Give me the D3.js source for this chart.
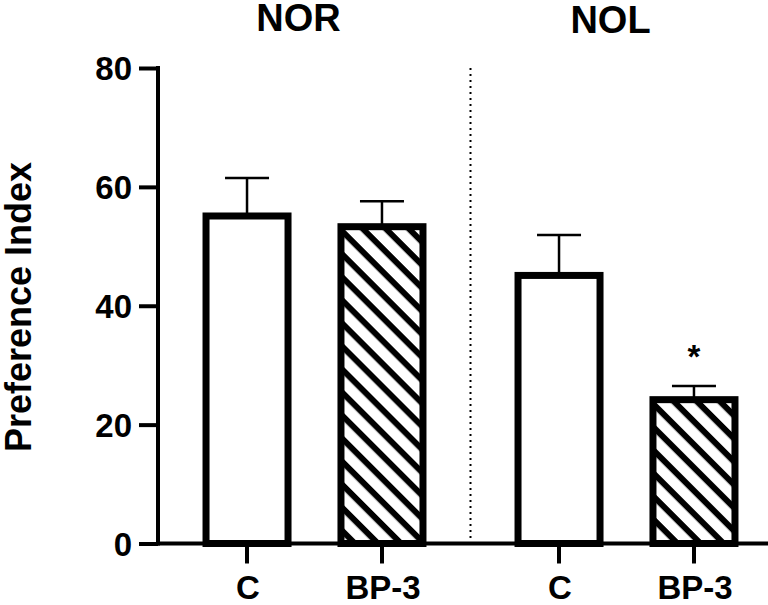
<!DOCTYPE html>
<html><head><meta charset="utf-8">
<script src="https://cdn.jsdelivr.net/npm/d3@7"></script>
<style>body{margin:0;background:#fff}svg{display:block}text{font-family:"Liberation Sans",Arial,sans-serif;font-weight:bold;fill:#000}</style>
</head><body><svg id="c" width="768" height="605"></svg>
<script>
const groups = ["NOR", "NOL"];
const conditions = ["C", "BP-3"];
const meansNOR = [55.1, 53.3];
const meansNOL = [45.1, 24.2];
const semNOR = [6.4, 4.3];
const semNOL = [6.8, 2.3];
const sigNOR = ["", ""];
const sigNOL = ["", "*"];
const yTicks = [0, 20, 40, 60, 80];
const yLabel = "Preference Index";

const data = [];
groups.forEach((g, gi) => {
  const m = gi === 0 ? meansNOR : meansNOL;
  const s = gi === 0 ? semNOR : semNOL;
  const sg = gi === 0 ? sigNOR : sigNOL;
  conditions.forEach((c, ci) => data.push({group: g, cond: c, mean: m[ci], sem: s[ci], sig: sg[ci], hatched: ci === 1}));
});

const svg = d3.select("#c");
const y = d3.scaleLinear().domain([0, 80]).range([543.5, 68]);
const x0 = d3.scaleBand().domain(groups).range([158.5, 782.5]).padding(0);
const x1 = d3.scalePoint().domain(conditions).range([0, x0.bandwidth()]).padding(0.656);
const cx = d => x0(d.group) + x1(d.cond);
const barW = 82;

const defs = svg.append("defs");
const pat = defs.append("pattern").attr("id", "hatch").attr("patternUnits", "userSpaceOnUse")
  .attr("width", 16.3).attr("height", 16.3).attr("patternTransform", "rotate(45)");
pat.append("rect").attr("width", 16.3).attr("height", 16.3).attr("fill", "#fff");
pat.append("rect").attr("y", 0).attr("width", 16.3).attr("height", 6).attr("fill", "#000");

// divider
svg.append("line").attr("x1", x0("NOL")).attr("x2", x0("NOL")).attr("y1", y(80)).attr("y2", y(0))
  .attr("stroke", "#000").attr("stroke-width", 2).attr("stroke-dasharray", "2,4");

// error bars
const eb = svg.append("g").attr("stroke", "#000").attr("stroke-width", 2.5);
data.forEach(d => {
  eb.append("line").attr("x1", cx(d)).attr("x2", cx(d)).attr("y1", y(d.mean)).attr("y2", y(d.mean + d.sem));
  eb.append("line").attr("x1", cx(d) - 22).attr("x2", cx(d) + 22).attr("y1", y(d.mean + d.sem)).attr("y2", y(d.mean + d.sem));
});

// bars
svg.append("g").selectAll("rect").data(data).join("rect")
  .attr("x", d => cx(d) - barW / 2).attr("width", barW)
  .attr("y", d => y(d.mean)).attr("height", d => y(0) - y(d.mean))
  .attr("fill", d => d.hatched ? "url(#hatch)" : "#fff")
  .attr("stroke", "#000").attr("stroke-width", 7);

// significance
svg.append("g").selectAll("text").data(data.filter(d => d.sig)).join("text")
  .attr("x", d => cx(d)).attr("y", d => y(d.mean + d.sem) - 18)
  .attr("text-anchor", "middle").attr("font-size", 33).text(d => d.sig);

// x axis
svg.append("line").attr("x1", 156).attr("x2", 768).attr("y1", y(0)).attr("y2", y(0))
  .attr("stroke", "#000").attr("stroke-width", 4);
svg.append("g").selectAll("line").data(data).join("line")
  .attr("x1", d => cx(d)).attr("x2", d => cx(d)).attr("y1", y(0)).attr("y2", y(0) + 20)
  .attr("stroke", "#000").attr("stroke-width", 4);
svg.append("g").selectAll("text").data(data).join("text")
  .attr("x", d => cx(d) + 1).attr("y", 599).attr("text-anchor", "middle").attr("font-size", 33).text(d => d.cond);

// y axis
const yAxis = d3.axisLeft(y).tickValues(yTicks).tickSize(19).tickSizeOuter(0).tickPadding(7);
const ga = svg.append("g").attr("transform", "translate(158,0)").call(yAxis);
ga.select(".domain").attr("stroke-width", 4).attr("d", `M0,${y(80) - 2}V${y(0) + 2}`);
ga.selectAll(".tick line").attr("stroke-width", 4);
ga.selectAll(".tick text").attr("font-size", 33).attr("font-family", "Liberation Sans, Arial, sans-serif").attr("font-weight", "bold").attr("fill", "#000").attr("dy", "0.36em");

svg.append("text").attr("transform", `translate(31,307) rotate(-90)`).attr("text-anchor", "middle")
  .attr("font-size", 36).text(yLabel);

// group titles
svg.append("g").selectAll("text").data(groups).join("text")
  .attr("x", g => x0(g) + x0.bandwidth() / 2 - 16).attr("y", (g, i) => 31 + i * 2)
  .attr("text-anchor", "middle").attr("font-size", 38).text(g => g);
</script></body></html>
